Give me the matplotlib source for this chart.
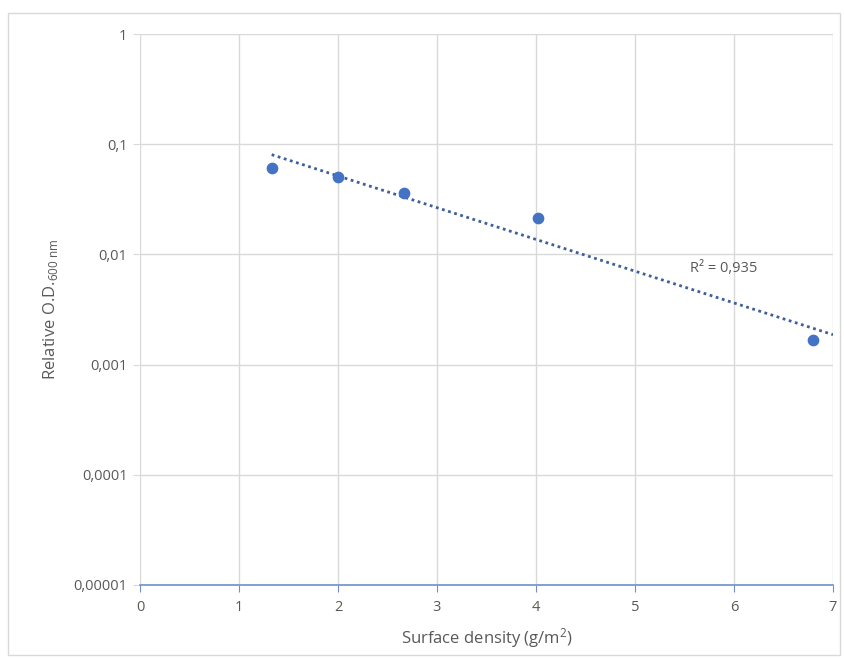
import numpy as np
import matplotlib.pyplot as plt
from matplotlib.patches import Rectangle
from matplotlib.ticker import FixedLocator, FixedFormatter, NullLocator

# data
surface_density = [1.33, 2.0, 2.67, 4.02, 6.8]
rel_od = [0.0608, 0.0504, 0.036, 0.0214, 0.00167]
r2_text = "R² = 0,935"

y_ticks = [1e-5, 1e-4, 1e-3, 1e-2, 1e-1, 1]
y_labels = ["0,00001", "0,0001", "0,001", "0,01", "0,1", "1"]
x_ticks = [0, 1, 2, 3, 4, 5, 6, 7]

plt.rcParams["font.family"] = ["Open Sans", "DejaVu Sans"]

BLUE = "#4472C4"
GRID = "#d9d9d9"
TEXT = "#595959"

fig = plt.figure(figsize=(8.45, 6.62), dpi=100)
ax = fig.add_axes([140 / 845, 1 - 585 / 662, 693 / 845, 551 / 662])

# outer chart border
fig.patches.append(Rectangle((8 / 845, 1 - 655 / 662), 832 / 845, 642 / 662,
                             transform=fig.transFigure, fill=False,
                             edgecolor="#d9d9d9", linewidth=1))

ax.scatter(surface_density, rel_od, s=55, color=BLUE, zorder=3)

# exponential trendline (fit in log space), forecast to x=7
x = np.array(surface_density)
coef = np.polyfit(x, np.log10(rel_od), 1)
xt = np.linspace(x.min(), 7, 100)
ax.plot(xt, 10 ** np.polyval(coef, xt), linestyle=(0, (1, 1.3)),
        color="#3f5e9c", linewidth=2, zorder=2)

ax.text(5.56, 0.0075, r2_text, fontsize=10.5, color=TEXT, va="center")

ax.set_yscale("log")
ax.set_ylim(1e-5, 1)
ax.set_xlim(0, 7)
ax.yaxis.set_major_locator(FixedLocator(y_ticks))
ax.yaxis.set_major_formatter(FixedFormatter(y_labels))
ax.yaxis.set_minor_locator(NullLocator())
ax.set_xticks(x_ticks)

ax.grid(True, color=GRID, linewidth=1)
ax.set_axisbelow(True)
for s in ["top", "right", "left"]:
    ax.spines[s].set_visible(False)
ax.spines["bottom"].set_color("#6f8fcf")
ax.spines["bottom"].set_linewidth(1.2)

ax.tick_params(axis="x", colors="#6f8fcf", length=5, labelcolor=TEXT,
               labelsize=10.5, pad=6)
ax.tick_params(axis="y", colors=GRID, length=5, labelcolor=TEXT,
               labelsize=10.5, pad=4)

ax.set_xlabel(r"Surface density (g/m$\mathregular{^2}$)", fontsize=12,
              color=TEXT, labelpad=8)
ax.set_ylabel(r"Relative O.D.$_{\mathregular{600\ nm}}$", fontsize=12,
              color=TEXT, labelpad=10)

fig.savefig("out.png", dpi=100)
